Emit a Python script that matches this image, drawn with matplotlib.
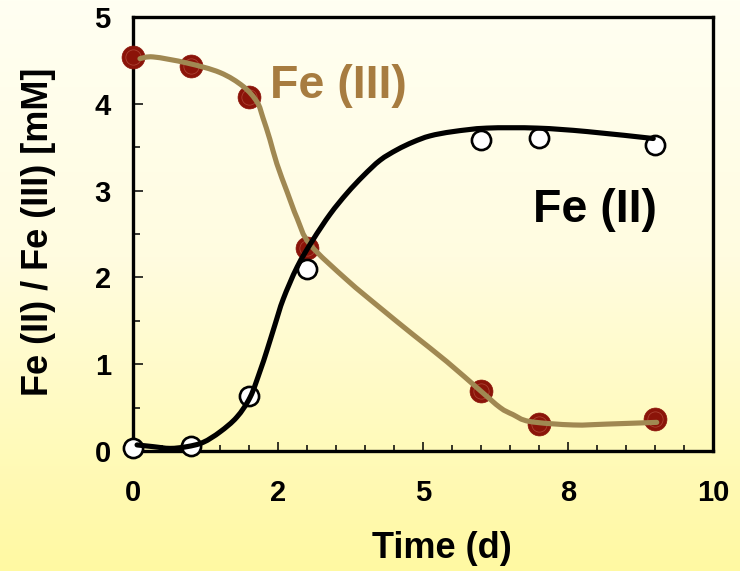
import numpy as np
import matplotlib
matplotlib.use("Agg")
import matplotlib.pyplot as plt
from matplotlib.ticker import MultipleLocator
from matplotlib.colors import LinearSegmentedColormap
from matplotlib.path import Path
from matplotlib.patches import PathPatch

plt.rcParams['font.family'] = ['Liberation Sans', 'DejaVu Sans']
plt.rcParams['font.weight'] = 'bold'

# ---- data ----
time_days = [0, 1, 2, 3, 6, 7, 9]
fe3_values = [4.54, 4.43, 4.08, 2.34, 0.69, 0.31, 0.37]
fe2_values = [0.03, 0.06, 0.63, 2.10, 3.58, 3.61, 3.53]

fe3_curve_x = [0.12, 0.35, 0.93, 1.5, 1.9, 2.14, 2.24, 2.36, 2.48, 2.66, 2.83, 3.05,
               3.69, 4.26, 4.83, 5.41, 5.98, 6.33, 6.55, 6.84, 7.59, 8.17, 9.03]
fe3_curve_y = [4.52, 4.54, 4.47, 4.36, 4.2, 4.02, 3.84, 3.59, 3.31, 2.98, 2.68, 2.38,
               1.97, 1.65, 1.34, 1.03, 0.70, 0.50, 0.42, 0.34, 0.30, 0.31, 0.33]

fe2_curve_x = [0.07, 0.35, 0.64, 0.93, 1.21, 1.5, 1.79, 2.02, 2.19, 2.31, 2.45, 2.59,
               2.83, 3.1, 3.4, 3.69, 3.97, 4.26, 4.55, 4.83, 5.12, 5.52, 6.1, 6.97,
               7.83, 8.97]
fe2_curve_y = [0.07, 0.05, 0.03, 0.05, 0.10, 0.22, 0.39, 0.62, 0.92, 1.16, 1.46, 1.75,
               2.12, 2.43, 2.73, 2.97, 3.17, 3.35, 3.47, 3.56, 3.63, 3.68, 3.72, 3.72,
               3.68, 3.60]

xtick_vals = [0, 2.5, 5, 7.5, 10]
xtick_labels = ['0', '2', '5', '8', '10']
ytick_vals = [0, 1, 2, 3, 4, 5]
ytick_labels = ['0', '1', '2', '3', '4', '5']

fe3_label = 'Fe (III)'
fe2_label = 'Fe (II)'
xlabel = 'Time (d)'
ylabel = 'Fe (II) / Fe (III) [mM]'


def smooth_path(ax, xs, ys):
    """Smooth Bezier path through the read curve points, built in display space."""
    pts = ax.transData.transform(np.column_stack([xs, ys]))
    n = len(pts)
    verts = [pts[0]]
    codes = [Path.MOVETO]
    for i in range(n - 1):
        p0 = pts[i - 1] if i > 0 else pts[i]
        p1 = pts[i]
        p2 = pts[i + 1]
        p3 = pts[i + 2] if i + 2 < n else pts[i + 1]
        c1 = p1 + (p2 - p0) / 6.0
        c2 = p2 - (p3 - p1) / 6.0
        verts += [c1, c2, p2]
        codes += [Path.CURVE4] * 3
    return Path(verts, codes)


# ---- figure ----
fig = plt.figure(figsize=(7.4, 5.71), dpi=100)

bg = fig.add_axes([0, 0, 1, 1], zorder=-10)
cmap = LinearSegmentedColormap.from_list(
    'bg', [(0.0, '#fffff2'), (0.45, '#fffce0'), (1.0, '#fff9a2')])
grad = np.linspace(0, 1, 256).reshape(-1, 1)
bg.imshow(grad, aspect='auto', cmap=cmap, extent=[0, 1, 0, 1], origin='upper')
bg.set_axis_off()

ax = fig.add_axes([133/740, 1 - 451/571, (713 - 133)/740, (451 - 17)/571])
ax.set_facecolor('none')
ax.set_xlim(0, 10)
ax.set_ylim(0, 5)

# markers
ax.plot(time_days, fe3_values, linestyle='none', marker='o', markersize=16.5,
        markerfacecolor='#8b1409', markeredgecolor='#8b1409', markeredgewidth=0.5,
        clip_on=False, zorder=3)
ax.plot(time_days, fe3_values, linestyle='none', marker='o', markersize=11,
        markerfacecolor='none', markeredgecolor='#b04a3a', markeredgewidth=0.5,
        clip_on=False, zorder=3.1)
ax.plot(time_days, fe2_values, linestyle='none', marker='o', markersize=13.8,
        markerfacecolor='white', markeredgecolor='black', markeredgewidth=1.9,
        clip_on=False, zorder=3.2)

# smooth curves
for xs, ys, col, z in [(fe3_curve_x, fe3_curve_y, '#a08852', 4),
                       (fe2_curve_x, fe2_curve_y, 'black', 5)]:
    p = smooth_path(ax, xs, ys)
    patch = PathPatch(p, facecolor='none', edgecolor=col, linewidth=3.7,
                      capstyle='round', joinstyle='round',
                      transform=None, zorder=z)
    ax.add_artist(patch)

# labels inside
ax.text(2.36, 4.07, fe3_label, color='#a77c40', fontsize=33.5, fontweight='bold',
        ha='left', va='baseline')
ax.text(6.9, 2.64, fe2_label, color='black', fontsize=33.5, fontweight='bold',
        ha='left', va='baseline')

ax.set_xticks(xtick_vals)
ax.set_xticklabels(xtick_labels)
ax.set_yticks(ytick_vals)
ax.set_yticklabels(ytick_labels)
ax.xaxis.set_minor_locator(MultipleLocator(0.5))
ax.yaxis.set_minor_locator(MultipleLocator(0.5))

ax.tick_params(axis='both', which='both', direction='in', top=False, right=False,
               labelsize=21, width=1.1)
ax.tick_params(axis='x', which='major', length=6.5, pad=20)
ax.tick_params(axis='x', which='minor', length=4.5)
ax.tick_params(axis='y', which='major', length=7, pad=16)
ax.tick_params(axis='y', which='minor', length=5)
for lab in ax.get_xticklabels() + ax.get_yticklabels():
    lab.set_fontweight('bold')

for s in ax.spines.values():
    s.set_linewidth(2.4)
    s.set_color('black')

ax.set_xlabel(xlabel, fontsize=26, fontweight='bold')
ax.set_ylabel(ylabel, fontsize=26, fontweight='bold')
ax.xaxis.set_label_coords((442 - 133) / 580, -(548 - 451) / 434)
ax.xaxis.label.set_va('center')
ax.yaxis.set_label_coords(-(133 - 39) / 580, (451 - 232) / 434)
ax.yaxis.label.set_va('center')

fig.savefig('out.png', dpi=100)
